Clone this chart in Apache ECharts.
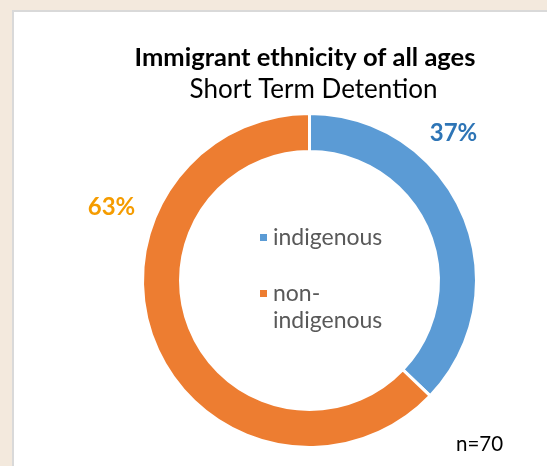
<!DOCTYPE html>
<html>
<head>
<meta charset="utf-8">
<script src="https://cdn.jsdelivr.net/npm/echarts@6/dist/echarts.min.js"></script>
<style>
html,body{margin:0;padding:0;background:#f3e9dd;overflow:hidden;}
#panel{position:absolute;left:12px;top:10px;width:600px;height:520px;background:#fff;border:2px solid #d9d9d9;box-sizing:border-box;}
#chart{position:absolute;left:0;top:0;width:547px;height:466px;}
</style>
</head>
<body>
<div id="panel"></div>
<div id="chart"></div>
<script>
const categories = ['indigenous', 'non-indigenous'];
const counts = [26, 44];
const colors = ['#5b9bd5', '#ed7d31'];
const labelColors = ['#2e75b6', '#f59c00'];
const titleText = 'Immigrant ethnicity of all ages';
const subtitleText = 'Short Term Detention';
const total = counts.reduce((a, b) => a + b, 0);

const chart = echarts.init(document.getElementById('chart'));
const font = 'Lato, "Open Sans", sans-serif';
const labelOffsets = [[144, -147], [-198, -73]];

chart.setOption({
  animation: false,
  backgroundColor: 'transparent',
  title: [{
    text: titleText,
    left: 300,
    textAlign: 'center',
    top: 40,
    textStyle: {fontFamily: font, fontWeight: 'bold', fontSize: 25.5, color: '#000'}
  }, {
    text: subtitleText,
    left: 308.5,
    textAlign: 'center',
    top: 72,
    textStyle: {fontFamily: font, fontWeight: 'normal', fontSize: 26, color: '#000'}
  }],
  legend: {
    orient: 'vertical',
    left: 258,
    top: 224,
    padding: 0,
    itemWidth: 9,
    itemHeight: 9,
    itemGap: 2,
    icon: 'rect',
    data: categories,
    formatter: n => n === 'non-indigenous' ? ' \nnon-\nindigenous' : n,
    textStyle: {fontFamily: font, fontSize: 23, color: '#595959', lineHeight: 27}
  },
  graphic: [{
    type: 'text', left: 456, top: 434,
    style: {text: 'n=' + total, fontFamily: font, fontSize: 20.5, fill: '#000'}
  }],
  series: [{
    type: 'pie',
    radius: [129, 167],
    center: [309.5, 280.5],
    startAngle: 90,
    clockwise: true,
    itemStyle: {borderColor: '#fff', borderWidth: 3},
    labelLine: {show: false},
    emphasis: {disabled: true},
    data: categories.map((c, i) => ({
      name: c,
      value: counts[i],
      itemStyle: {color: colors[i]},
      label: {
        show: true,
        position: 'center',
        offset: labelOffsets[i],
        formatter: p => Math.round(p.value / total * 100) + '%',
        fontFamily: font, fontWeight: 'bold', fontSize: 24, color: labelColors[i]
      }
    }))
  }]
});
</script>
</body>
</html>
